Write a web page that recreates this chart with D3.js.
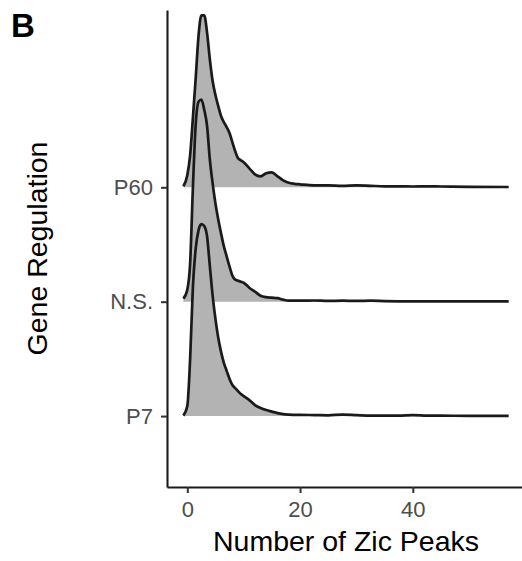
<!DOCTYPE html>
<html>
<head>
<meta charset="utf-8">
<script src="https://cdn.jsdelivr.net/npm/d3@7"></script>
<style>
  html, body { margin: 0; padding: 0; background: #fff; }
  svg { display: block; }
</style>
</head>
<body>
<svg id="chart" width="522" height="561"></svg>
<script>
// ---- data ----
const categories = ["P7", "N.S.", "P60"];
const xTicks = [0, 20, 40];
const zicPeaks = [-0.7, 0, 0.5, 1, 1.5, 2, 2.5, 3, 3.5, 4, 4.5, 5, 5.5, 6, 6.5, 7, 7.5, 8, 8.5, 9, 9.5, 10,
  11, 12, 13, 14, 15, 16, 17, 18, 19, 20, 22.5, 25, 27.5, 30, 32.5, 35, 37.5, 40, 42.5, 45, 50, 57];
const densityP7 = [0.0005, 0.010, 0.057, 0.130, 0.168, 0.186, 0.192, 0.190, 0.180, 0.150, 0.120, 0.097, 0.078, 0.064, 0.053, 0.045, 0.037, 0.031, 0.028, 0.025, 0.022, 0.020,
  0.016, 0.011, 0.008, 0.006, 0.0045, 0.003, 0.002, 0.0015, 0.0012, 0.0012, 0.001, 0.0008, 0.0015, 0.001, 0.0005, 0.0005, 0.0005, 0.001, 0.0005, 0.0004, 0.0003, 0.0003];
const densityNS = [0.003, 0.012, 0.038, 0.115, 0.178, 0.200, 0.202, 0.192, 0.176, 0.142, 0.118, 0.098, 0.082, 0.068, 0.055, 0.045, 0.035, 0.026, 0.022, 0.021, 0.020, 0.019,
  0.014, 0.010, 0.006, 0.0045, 0.004, 0.0035, 0.002, 0.001, 0.001, 0.001, 0.0012, 0.0008, 0.001, 0.0008, 0.001, 0.0006, 0.0004, 0.0003, 0.0003, 0.0003, 0.0003, 0.0003];
const densityP60 = [0.001, 0.012, 0.032, 0.070, 0.110, 0.152, 0.172, 0.172, 0.155, 0.128, 0.106, 0.092, 0.081, 0.071, 0.065, 0.060, 0.054, 0.045, 0.036, 0.029, 0.027, 0.025,
  0.019, 0.013, 0.011, 0.014, 0.015, 0.011, 0.007, 0.0045, 0.0035, 0.003, 0.002, 0.002, 0.0015, 0.002, 0.0015, 0.001, 0.001, 0.0008, 0.001, 0.0008, 0.0005, 0.0003];
const seriesDensities = [densityP7, densityNS, densityP60];

// ---- layout ----
const svg = d3.select("#chart");
const x = d3.scaleLinear().domain([-3.6, 59.9]).range([167, 525]);
const y = d3.scaleLinear().domain([0.38, 4.55]).range([487, 10]);
const h = d3.scaleLinear().domain([0, 0.2]).range([0, 200]);

const fillColor = "#b3b3b3";

// draw from top ridge (P60) to bottom (P7) so lower ridges overlay
const order = [2, 1, 0];
order.forEach(i => {
  const base = y(i + 1);
  const pts = zicPeaks.map((v, k) => [v, seriesDensities[i][k]]);
  const area = d3.area()
    .x(d => x(d[0]))
    .y0(base)
    .y1(d => base - h(d[1]))
    .curve(d3.curveMonotoneX);
  const line = d3.line()
    .x(d => x(d[0]))
    .y(d => base - h(d[1]))
    .curve(d3.curveMonotoneX);
  svg.append("path").datum(pts).attr("d", area).attr("fill", fillColor).attr("stroke", "none");
  svg.append("path").datum(pts).attr("d", line).attr("fill", "none")
    .attr("stroke", "#1a1a1a").attr("stroke-width", 2.7).attr("stroke-linejoin", "round");
});

// axes
const font = "'Liberation Sans', Arial, Helvetica, sans-serif";
const yAxis = svg.append("g").attr("transform", "translate(167,0)")
  .call(d3.axisLeft(y).tickValues([1, 2, 3]).tickFormat(d => categories[d - 1])
    .tickSize(6).tickSizeOuter(0).tickPadding(8));
const xAxis = svg.append("g").attr("transform", "translate(0,487)")
  .call(d3.axisBottom(x).tickValues(xTicks).tickFormat(d3.format("d"))
    .tickSize(6).tickSizeOuter(0).tickPadding(8));
[yAxis, xAxis].forEach(g => {
  g.select(".domain").attr("stroke", "#1a1a1a").attr("stroke-width", 2.1);
  g.selectAll(".tick line").attr("stroke", "#333").attr("stroke-width", 2);
  g.selectAll(".tick text").attr("fill", "#4d4d4d").style("font-family", font).style("font-size", "22px");
});

// titles
svg.append("text").attr("x", 346).attr("y", 551).attr("text-anchor", "middle")
  .style("font-family", font).style("font-size", "28.5px").attr("fill", "#000")
  .text("Number of Zic Peaks");
svg.append("text").attr("transform", "translate(47,248.5) rotate(-90)").attr("text-anchor", "middle")
  .style("font-family", font).style("font-size", "28.5px").attr("fill", "#000")
  .text("Gene Regulation");
svg.append("text").attr("x", 11).attr("y", 37)
  .style("font-family", font).style("font-size", "33px").style("font-weight", "bold").attr("fill", "#000")
  .text("B");
</script>
</body>
</html>
